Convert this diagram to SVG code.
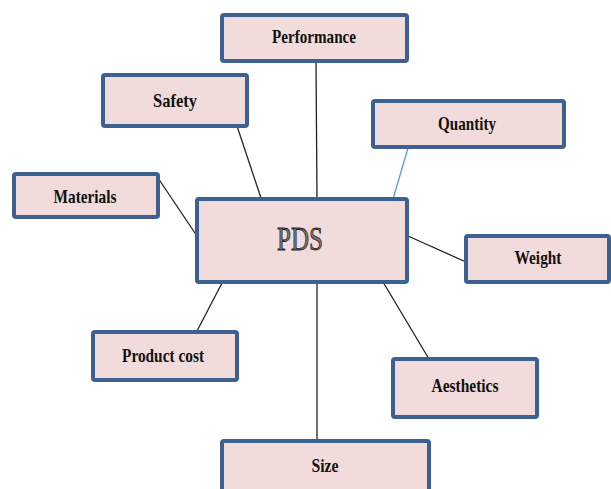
<svg xmlns="http://www.w3.org/2000/svg" width="611" height="489" viewBox="0 0 611 489">
<style>
.box{fill:#f2dcdb;stroke:#3c6190;stroke-width:4;}
.lbl{font-family:"Liberation Serif","Times New Roman",serif;font-weight:bold;font-size:19px;fill:#111;text-anchor:middle;}
.pds{font-family:"Liberation Serif","Times New Roman",serif;font-size:33px;fill:#777;stroke:#1a1a1a;stroke-width:0.8;text-anchor:middle;}
.ln{stroke:#222;stroke-width:1.3;fill:none;}
</style>
<rect width="611" height="489" fill="#fff"/>
<g id="connectors">
<line class="ln" x1="316" y1="62" x2="317" y2="198"/>
<line class="ln" x1="237" y1="126" x2="261" y2="198"/>
<line class="ln" x1="158" y1="178" x2="197" y2="236"/>
<line x1="408" y1="148" x2="393" y2="199" stroke="#5b9bd5" stroke-width="1.3"/>
<line class="ln" x1="408" y1="236" x2="466" y2="262"/>
<line class="ln" x1="222" y1="283" x2="197" y2="331"/>
<line class="ln" x1="383" y1="282" x2="429" y2="359"/>
<line class="ln" x1="317" y1="283" x2="317" y2="440"/>
</g>
<g id="performance"><rect class="box" x="222" y="15" width="185" height="46" rx="2"/><text class="lbl" x="314" y="43" textLength="84" lengthAdjust="spacingAndGlyphs">Performance</text></g>
<g id="safety"><rect class="box" x="103" y="75" width="144" height="51" rx="2"/><text class="lbl" x="175" y="107" textLength="44" lengthAdjust="spacingAndGlyphs">Safety</text></g>
<g id="materials"><rect class="box" x="14" y="174" width="144" height="43" rx="2"/><text class="lbl" x="85" y="203" textLength="63" lengthAdjust="spacingAndGlyphs">Materials</text></g>
<g id="quantity"><rect class="box" x="373" y="101" width="191" height="46" rx="2"/><text class="lbl" x="467" y="130" textLength="58" lengthAdjust="spacingAndGlyphs">Quantity</text></g>
<g id="pds"><rect class="box" x="197" y="199" width="210" height="83" rx="2"/><text class="pds" x="300" y="250" textLength="46" lengthAdjust="spacingAndGlyphs">PDS</text></g>
<g id="weight"><rect class="box" x="466" y="236" width="143" height="46" rx="2"/><text class="lbl" x="538" y="264" textLength="47" lengthAdjust="spacingAndGlyphs">Weight</text></g>
<g id="product-cost"><rect class="box" x="93" y="332" width="144" height="48" rx="2"/><text class="lbl" x="163" y="362" textLength="82" lengthAdjust="spacingAndGlyphs">Product cost</text></g>
<g id="aesthetics"><rect class="box" x="393" y="359" width="144" height="58" rx="2"/><text class="lbl" x="465" y="392" textLength="67" lengthAdjust="spacingAndGlyphs">Aesthetics</text></g>
<g id="size"><rect class="box" x="222" y="441" width="207" height="60" rx="2"/><text class="lbl" x="325" y="472" textLength="27" lengthAdjust="spacingAndGlyphs">Size</text></g>
</svg>
